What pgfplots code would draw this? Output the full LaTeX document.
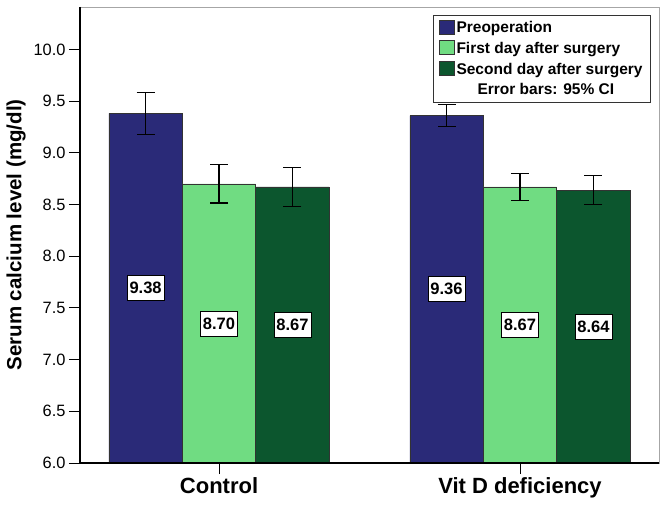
\documentclass[border=0pt]{standalone}
\usepackage{fontspec}
\setmainfont{Liberation Sans}
\usepackage{pgfplots}
\pgfplotsset{compat=1.18}

\definecolor{preop}{RGB}{42,42,120}
\definecolor{dayone}{RGB}{112,220,130}
\definecolor{daytwo}{RGB}{12,86,46}

\begin{document}
\begin{tikzpicture}
\begin{axis}[
    scale only axis,
    width=579pt, height=456pt,
    ybar=0pt, bar width=0.244,
    xmin=-0.462, xmax=1.462,
    ymin=6, ymax=10.41,
    clip mode=individual,
    xtick={0,1},
    xticklabels={Control,Vit D deficiency},
    ytick={6,6.5,...,10},
    xtick pos=lower, ytick pos=left,
    tick align=outside,
    major tick length=11pt,
    tick style={black, line width=0.8pt},
    axis line style={draw=gray!70, line width=0.8pt},
    /pgf/number format/assume math mode=true,
    y tick label style={font=\fontsize{16.4}{18}\selectfont, /pgf/number format/fixed, /pgf/number format/precision=1, /pgf/number format/fixed zerofill},
    x tick label style={font=\fontsize{22}{24}\bfseries\selectfont},
    ylabel={Serum calcium level (mg/dl)},
    every axis y label/.style={at={(axis description cs:0,0.5)}, xshift=-64pt, rotate=90, anchor=center, font=\fontsize{20.5}{22}\bfseries\selectfont},
    legend style={at={(0.986,0.982)}, anchor=north east, draw=black!80, line width=0.6pt,
        font=\fontsize{15.5}{17}\bfseries\selectfont, row sep=4pt, inner xsep=6pt, inner ysep=4pt},
    legend cell align=left,
    legend image code/.code={\draw[#1, draw=black!80, line width=0.5pt] (0pt,-6pt) rectangle (15pt,8pt);},
    error bars/error bar style={black, line width=1.3pt},
    error bars/error mark options={rotate=90, mark size=9pt, line width=1.3pt, black},
]

% Preoperation
\addplot[bar shift=-0.244, fill=preop, draw=black!80, line width=0.5pt,
    error bars/.cd, y dir=both, y explicit]
    coordinates {(0,9.38) +- (0,0.200) (1,9.36) +- (0,0.105)};
\addlegendentry{Preoperation}

% First day after surgery
\addplot[bar shift=0, fill=dayone, draw=black!80, line width=0.5pt,
    error bars/.cd, y dir=both, y explicit]
    coordinates {(0,8.70) +- (0,0.185) (1,8.67) +- (0,0.130)};
\addlegendentry{First day after surgery}

% Second day after surgery
\addplot[bar shift=0.244, fill=daytwo, draw=black!80, line width=0.5pt,
    error bars/.cd, y dir=both, y explicit]
    coordinates {(0,8.67) +- (0,0.190) (1,8.64) +- (0,0.140)};
\addlegendentry{Second day after surgery}

\addlegendimage{empty legend}
\addlegendentry{\hspace*{21pt}Error bars: 95\% CI}

% value labels at half bar height (invisible bars)
\pgfplotsset{value label/.style={forget plot, draw=none, fill=none, point meta=explicit symbolic,
    nodes near coords, every node near coord/.append style={anchor=center, draw=black, line width=0.6pt,
    fill=white, inner xsep=2.5pt, minimum height=25pt, font=\fontsize{16.5}{18}\bfseries\selectfont}}}
\addplot[value label, bar shift=-0.244] coordinates {(0,7.69) [9.38] (1,7.68) [9.36]};
\addplot[value label, bar shift=0] coordinates {(0,7.35) [8.70] (1,7.335) [8.67]};
\addplot[value label, bar shift=0.244] coordinates {(0,7.335) [8.67] (1,7.32) [8.64]};

\draw[black, line width=2pt] (rel axis cs:0,1) -- (rel axis cs:0,0) -- (rel axis cs:1,0);
\coordinate (bl) at (rel axis cs:0,0);
\coordinate (tr) at (rel axis cs:1,1);
\end{axis}
\pgfresetboundingbox
\path ([shift={(-80pt,-48pt)}]bl) rectangle ([shift={(8pt,7pt)}]tr);
\end{tikzpicture}
\end{document}
